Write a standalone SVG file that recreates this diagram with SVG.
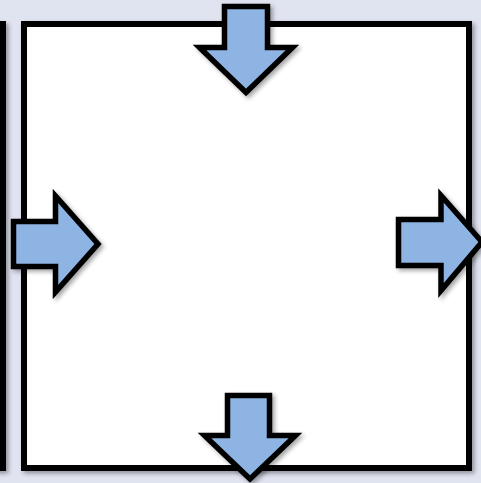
<svg xmlns="http://www.w3.org/2000/svg" width="481" height="483" viewBox="0 0 481 483">
  <defs>
    <filter id="shadow" x="-20%" y="-20%" width="140%" height="140%">
      <feDropShadow dx="2.5" dy="2.5" stdDeviation="2" flood-color="#000" flood-opacity="0.35"/>
    </filter>
  </defs>
  <style>
    .panel { fill: #ffffff; stroke: #000000; stroke-width: 6; filter: url(#shadow); }
    .arrow { fill: #8db4e2; stroke: #000000; stroke-width: 5.5; stroke-linejoin: miter; stroke-miterlimit: 10; filter: url(#shadow); }
  </style>
  <rect x="0" y="0" width="481" height="483" fill="#e0e3f0"/>
  <g id="leftPanel">
    <rect class="panel" x="-500" y="24" width="503" height="444"/>
  </g>
  <g id="mainPanel">
    <rect class="panel" x="24" y="24" width="445" height="444"/>
  </g>
  <g id="connectors">
    <g id="arrowTop">
      <polygon class="arrow" points="224.5,6.5 267.5,6.5 267.5,47.5 292.5,47.5 246,92.5 199.5,47.5 224.5,47.5"/>
    </g>
    <g id="arrowLeft">
      <polygon class="arrow" points="13.5,221.5 55.5,221.5 55.5,196 98,244 55.5,292 55.5,266.5 13.5,266.5"/>
    </g>
    <g id="arrowRight">
      <polygon class="arrow" points="398.5,219.5 441,219.5 441,195.5 482,242 441,290.5 441,265.5 398.5,265.5"/>
    </g>
    <g id="arrowBottom">
      <polygon class="arrow" points="227.5,395.5 269.5,395.5 269.5,435.5 295.5,435.5 250,479 204.5,435.5 227.5,435.5"/>
    </g>
  </g>
</svg>
